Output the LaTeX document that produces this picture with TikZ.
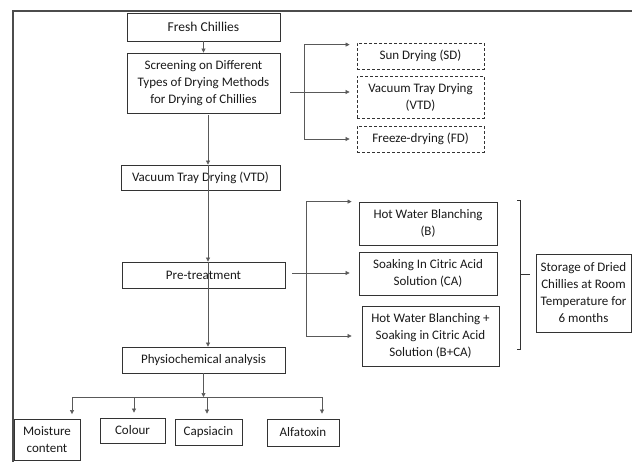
\documentclass[tikz,border=0pt]{standalone}
\usepackage{fontspec}
\setmainfont{Carlito}
\usetikzlibrary{arrows.meta,positioning}

\begin{document}
\begin{tikzpicture}[x=1pt, y=-1pt, font=\fontsize{13}{17}\selectfont,
  box/.style={draw=black!80, line width=0.8pt, align=center, inner sep=0pt, text=black!90},
  dbox/.style={box, dash pattern=on 3pt off 2pt},
  link/.style={draw=black!65, line width=0.6pt},
  arr/.style={link, -{Triangle[length=4pt,width=4pt]}}]
  \useasboundingbox (0,0) rectangle (632,462);
  \draw[black!70, line width=1.2pt] (632,11) -- (13,11) -- (13,462);

  \node[box, minimum width=153pt, minimum height=28pt, font=\fontsize{13.5}{17}\selectfont] (fresh) at (203.5,27) {Fresh Chillies};
  \node[box, minimum width=153pt, minimum height=60pt] (screen) at (203.5,83) {Screening on Different\\Types of Drying Methods\\for Drying of Chillies};
  \node[box, minimum width=159pt, minimum height=25pt] (vtd) at (200.5,177.5) {Vacuum Tray Drying (VTD)};
  \node[box, minimum width=163pt, minimum height=26pt] (pre) at (203.5,275) {Pre-treatment};
  \node[box, minimum width=163pt, minimum height=26pt] (phys) at (203.5,360) {Physiochemical analysis};

  \node[dbox, minimum width=127pt, minimum height=26pt] (sd) at (420.5,56) {Sun Drying (SD)};
  \node[dbox, minimum width=127pt, minimum height=42pt] (vtdb) at (420.5,97) {Vacuum Tray Drying\\(VTD)};
  \node[dbox, minimum width=127pt, minimum height=26pt] (fd) at (420.5,139) {Freeze-drying (FD)};

  \node[box, minimum width=138pt, minimum height=43pt] (hwb) at (428,223.5) {Hot Water Blanching\\(B)};
  \node[box, minimum width=138pt, minimum height=43pt] (ca) at (428,273.5) {Soaking In Citric Acid\\Solution (CA)};
  \node[box, minimum width=137pt, minimum height=60pt] (bca) at (430.5,336) {Hot Water Blanching +\\Soaking in Citric Acid\\Solution (B+CA)};
  \node[box, minimum width=95pt, minimum height=78pt] (store) at (583.5,293) {Storage of Dried\\Chillies at Room\\Temperature for\\6 months};

  \node[box, minimum width=66pt, minimum height=41pt] (moist) at (47,440) {Moisture\\content};
  \node[box, minimum width=65pt, minimum height=25pt] (colour) at (132.5,430.5) {Colour};
  \node[box, minimum width=67pt, minimum height=26pt] (caps) at (208.5,432) {Capsiacin};
  \node[box, minimum width=72pt, minimum height=27pt] (alfa) at (303,432.5) {Alfatoxin};

  \coordinate (spine) at (208,0);
  \coordinate (sfork) at (304,92);
  \coordinate (pfork) at (306,273);
  \coordinate (busL) at (72,397);
  \coordinate (busR) at (322,397);
  \coordinate (brTop) at (520,200);
  \coordinate (brBot) at (520,349);
  \coordinate (brMid) at (520,274);

  \draw[arr] (fresh.south) -- (screen.north);
  \draw[arr, shorten <=2pt] (screen.south -| spine) -- (vtd.north -| spine);
  \draw[arr] (vtd.north -| spine) -- (pre.north -| spine);
  \draw[arr] (pre.north -| spine) -- (phys.north -| spine);
  \draw[arr] (phys.south) -- (phys.south |- busL);
  \draw[link] (busL) -- (busR);
  \foreach \x/\n in {72/moist,134/colour,207/caps,322/alfa}
    \draw[arr, shorten >=5pt] (\x,397) -- (\x,397 |- \n.north);

  \draw[arr, shorten <=10pt, shorten >=7pt] (screen.east |- sfork) -- (sfork -| vtdb.west);
  \draw[arr, shorten >=7pt] (sfork) |- ([yshift=-2pt]sd.north west);
  \draw[arr, shorten >=7pt] (sfork) |- (fd.west);

  \draw[arr, shorten <=7pt, shorten >=9pt] (pre.east |- pfork) -- (pfork -| ca.west);
  \draw[arr, shorten >=7pt] (pfork) |- (hwb.north west);
  \draw[arr, shorten >=10pt] (pfork) |- (bca.west);

  \draw[black!80, line width=0.9pt] ([xshift=-3pt]brTop) -- (brTop) -- (brBot) -- ([xshift=-3pt]brBot);
  \draw[black!80, line width=0.9pt, shorten >=6pt] (brMid) -- (brMid -| store.west);
\end{tikzpicture}
\end{document}
